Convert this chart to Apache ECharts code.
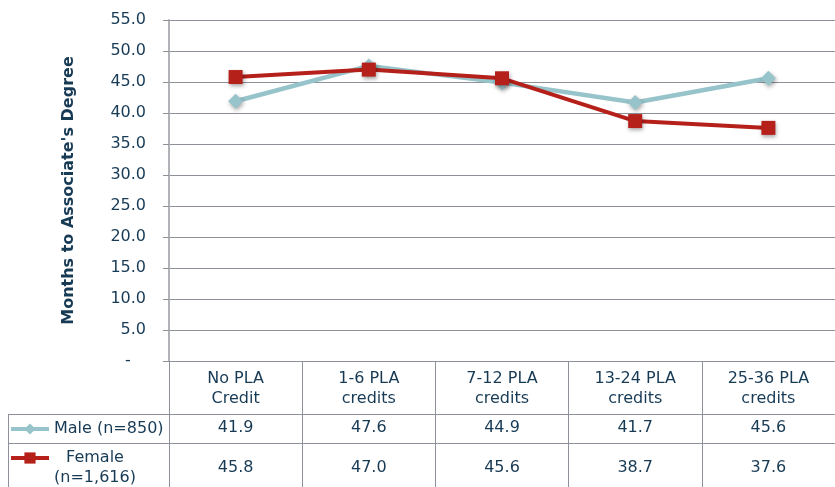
<!DOCTYPE html>
<html>
<head>
<meta charset="utf-8">
<script src="https://cdn.jsdelivr.net/npm/echarts@6/dist/echarts.min.js"></script>
<style>
  html, body { margin: 0; padding: 0; background: #fff; }
  #chart { width: 835px; height: 487px; }
</style>
</head>
<body>
<div id="chart"></div>
<script>
// 分类 / 数据
const categories = ['No PLA\nCredit', '1-6 PLA\ncredits', '7-12 PLA\ncredits', '13-24 PLA\ncredits', '25-36 PLA\ncredits'];
const maleValues = [41.9, 47.6, 44.9, 41.7, 45.6];
const femaleValues = [45.8, 47.0, 45.6, 38.7, 37.6];
const seriesNames = ['Male (n=850)', 'Female (n=1,616)'];
const yTicks = { min: 0, max: 55, interval: 5 };

const textColor = '#173a55';
const gridColor = '#8e9199';
const font = 'DejaVu Sans';
const maleColor = '#96c4ca';
const femaleColor = '#b5201a';

const chart = echarts.init(document.getElementById('chart'));

const shadow = {
  shadowBlur: 4,
  shadowOffsetX: 1,
  shadowOffsetY: 2,
  shadowColor: 'rgba(0,0,0,0.35)'
};

chart.setOption({
  animation: false,
  textStyle: { fontFamily: font, color: textColor },
  grid: { left: 169, top: 20, width: 669, height: 341 },
  legend: [
    {
      data: [seriesNames[0]],
      left: 9,
      top: 419,
      padding: 0,
      itemWidth: 38,
      itemHeight: 14,
      lineStyle: { width: 4 },
      textStyle: { fontFamily: font, fontSize: 16, color: textColor, lineHeight: 20 }
    },
    {
      data: [seriesNames[1]],
      left: 9,
      top: 430,
      padding: 0,
      itemWidth: 38,
      itemHeight: 14,
      lineStyle: { width: 4 },
      formatter: () => '{e| }\n{t|Female}\n{t|(n=1,616)}',
      textStyle: {
        fontFamily: font, fontSize: 16, color: textColor,
        rich: {
          e: { fontSize: 16, lineHeight: 20 },
          t: { fontFamily: font, fontSize: 16, color: textColor, lineHeight: 20, width: 82, align: 'center' }
        }
      }
    }
  ],
  xAxis: [
    {
      type: 'category',
      data: categories,
      boundaryGap: true,
      axisLine: { lineStyle: { color: gridColor, width: 1 } },
      axisTick: { show: true, length: 126, lineStyle: { color: gridColor } },
      axisLabel: { interval: 0, margin: 8, fontSize: 16, lineHeight: 20, color: textColor, fontFamily: font }
    },
    // 表格: Male 行
    {
      type: 'category',
      position: 'bottom',
      offset: 50,
      data: maleValues.map(v => v.toFixed(1)),
      axisLine: { show: false },
      axisTick: { show: false },
      axisLabel: { interval: 0, margin: 8, fontSize: 16, lineHeight: 18, color: textColor, fontFamily: font }
    },
    // 表格: Female 行
    {
      type: 'category',
      position: 'bottom',
      offset: 90,
      data: femaleValues.map(v => v.toFixed(1)),
      axisLine: { show: false },
      axisTick: { show: false },
      axisLabel: { interval: 0, margin: 8, fontSize: 16, lineHeight: 18, color: textColor, fontFamily: font }
    }
  ],
  yAxis: {
    type: 'value',
    min: yTicks.min,
    max: yTicks.max,
    interval: yTicks.interval,
    name: "Months to Associate's Degree",
    nameLocation: 'middle',
    nameGap: 92,
    nameTextStyle: { fontFamily: font, fontSize: 16, fontWeight: 'bold', color: textColor },
    axisLine: { show: true, lineStyle: { color: '#b0b2b8', width: 2 } },
    axisTick: { show: true, length: 6, lineStyle: { color: gridColor } },
    axisLabel: {
      margin: 23,
      fontSize: 16,
      color: textColor,
      fontFamily: font,
      formatter: v => (v === 0 ? '-   ' : v.toFixed(1))
    },
    splitLine: { lineStyle: { color: gridColor, width: 1 } }
  },
  graphic: [
    // 表格横线 / 竖线
    { type: 'line', shape: { x1: 8, y1: 414.5, x2: 840, y2: 414.5 }, style: { stroke: gridColor, lineWidth: 1 } },
    { type: 'line', shape: { x1: 8, y1: 443.5, x2: 840, y2: 443.5 }, style: { stroke: gridColor, lineWidth: 1 } },
    { type: 'line', shape: { x1: 8.5, y1: 414, x2: 8.5, y2: 487 }, style: { stroke: gridColor, lineWidth: 1 } }
  ],
  series: [
    {
      name: seriesNames[0],
      type: 'line',
      data: maleValues,
      symbol: 'diamond',
      symbolSize: 15,
      lineStyle: { color: maleColor, width: 4.5 },
      itemStyle: Object.assign({ color: maleColor }, shadow),
      z: 2
    },
    {
      name: seriesNames[1],
      type: 'line',
      data: femaleValues,
      symbol: 'rect',
      symbolSize: 14,
      lineStyle: { color: femaleColor, width: 4 },
      itemStyle: Object.assign({ color: femaleColor }, shadow),
      z: 3
    }
  ]
});
</script>
</body>
</html>
